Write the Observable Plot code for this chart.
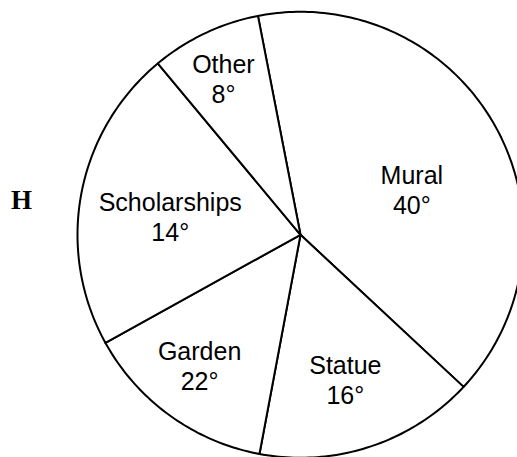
<!DOCTYPE html>
<html>
<head>
<meta charset="utf-8">
<script src="https://cdn.jsdelivr.net/npm/d3@7"></script>
<script src="https://cdn.jsdelivr.net/npm/@observablehq/plot@0.6"></script>
<style>
  html, body { margin: 0; padding: 0; background: #fff; overflow: hidden; }
  #chart { width: 517px; height: 457px; overflow: hidden; }
</style>
</head>
<body>
<div id="chart"></div>
<script>
// ---- data ----
const categories = ["Mural", "Statue", "Garden", "Scholarships", "Other"];
const shares = [40, 16, 14, 22, 8];            // share of the circle as drawn (%)
const valueLabels = ["40°", "16°", "22°", "14°", "8°"];
const sideLabel = "H";

// ---- layout ----
const W = 517, H = 457;
const cx = 300, cy = 234.3, R = 223;           // pixel centre and radius
const startDeg = -11;                            // first slice starts just left of 12 o'clock
const labelRadius = [0.54, 0.68, 0.74, 0.59, 0.78];
const labelNudge = [6.6, 1, 1.9, -2.5, -0.9];    // degrees

const a0 = startDeg * Math.PI / 180;
const arcs = d3.pie().sort(null).value(d => d).startAngle(a0).endAngle(a0 + 2 * Math.PI)(shares);

const outline = [];
arcs.forEach((a, i) => {
  const k = categories[i];
  outline.push({k, x: 0, y: 0});
  const n = Math.max(2, Math.ceil((a.endAngle - a.startAngle) * 180 / Math.PI));
  for (let j = 0; j <= n; j++) {
    const t = a.startAngle + (a.endAngle - a.startAngle) * j / n;
    outline.push({k, x: Math.sin(t), y: Math.cos(t)});
  }
});

const labels = arcs.map((a, i) => {
  const t = (a.startAngle + a.endAngle) / 2 + labelNudge[i] * Math.PI / 180;
  return {text: categories[i] + "\n" + valueLabels[i], x: labelRadius[i] * Math.sin(t), y: labelRadius[i] * Math.cos(t)};
});

const chart = Plot.plot({
  width: W,
  height: H,
  margin: 0,
  x: {domain: [-cx / R, (W - cx) / R], axis: null},
  y: {domain: [(cy - H) / R, cy / R], axis: null},
  marks: [
    Plot.line(outline, {x: "x", y: "y", z: "k", curve: "linear-closed", fill: "white", stroke: "black", strokeWidth: 2, strokeLinejoin: "round"}),
    Plot.text(labels, {x: "x", y: "y", text: "text", fontSize: 25, lineHeight: 1.2, fill: "black", fontFamily: "'Liberation Sans', Arial, sans-serif"}),
    Plot.text([sideLabel], {frameAnchor: "left", dx: 21, dy: -28.5, textAnchor: "middle", fontSize: 27, fontWeight: "bold", fill: "black", fontFamily: "'Liberation Serif', 'Times New Roman', serif"})
  ]
});
document.getElementById("chart").appendChild(chart);
</script>
</body>
</html>
